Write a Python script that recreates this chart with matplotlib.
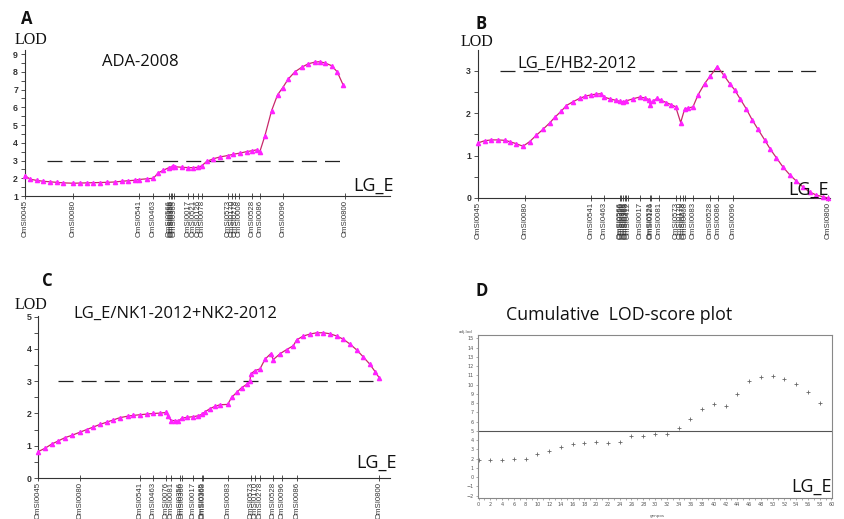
import matplotlib
matplotlib.use("Agg")
import matplotlib.pyplot as plt
from matplotlib.ticker import MultipleLocator

W, H = 845, 519

# ---- A: ADA-2008 (position in cM, LOD)
a_pos = [0, 1.7, 3.9, 6.1, 8.3, 10.6, 12.8, 16.1, 18.3, 20.6, 22.8, 25.0, 27.2, 30.0, 32.2,
         34.4, 36.7, 38.1, 40.6, 42.8, 44.4, 46.1, 48.0, 48.9, 49.4, 50.0, 52.2, 54.4, 56.1,
         57.8, 58.9, 60.6, 62.8, 65.0, 67.6, 69.4, 71.7, 73.9, 75.6, 77.2, 78.3, 80.0, 82.2,
         84.2, 85.9, 87.8, 90.0, 92.2, 94.4, 96.7, 98.3, 100.0, 102.2, 104.1, 106.1]
a_lod = [2.15, 1.95, 1.88, 1.83, 1.8, 1.77, 1.74, 1.72, 1.73, 1.74, 1.75, 1.76, 1.77, 1.79, 1.83,
         1.86, 1.89, 1.93, 1.97, 2.0, 2.3, 2.45, 2.6, 2.65, 2.7, 2.65, 2.62, 2.6, 2.6,
         2.62, 2.7, 2.95, 3.1, 3.2, 3.28, 3.35, 3.42, 3.5, 3.55, 3.6, 3.5, 4.4, 5.8,
         6.7, 7.1, 7.6, 8.0, 8.25, 8.45, 8.55, 8.57, 8.5, 8.35, 8.0, 7.25]
a_mk_pos = [0, 16.1, 38.1, 42.8, 48.0, 48.6, 49.1, 49.7, 54.4, 56.1, 57.8, 58.9, 67.6, 68.9,
            70.0, 71.4, 75.6, 78.3, 86.1, 106.7]
a_mk_names = ["OmSI0045", "OmSI0080", "OmSI0541", "OmSI0463", "OmSI0566", "OmSI0356",
              "OmSI0360", "OmSI0365", "OmSI0017", "OmSI0521", "OmSI0126", "OmSI0078",
              "OmSI0573", "OmSI0170", "OmSI0278", "OmSI0008", "OmSI0528", "OmSI0086",
              "OmSI0096", "OmSI0800"]

# ---- B: LG_E/HB2-2012
b_pos = [0, 2, 4, 6, 8, 9.5, 11.5, 13.5, 15.5, 17.5, 19.5, 21.5, 23, 25, 26.5, 28.5, 30.5,
         32.2, 33.8, 35.5, 37, 37.8, 39.5, 41.5, 42.5, 43.5, 44.5, 46.5, 48.5, 50, 51.3, 51.7,
         52.5, 53.7, 55, 56.5, 58, 59.3, 60.8, 62, 63, 64.5, 66, 68, 69.7, 71.8, 73.7, 75.5,
         77, 78.7, 80.5, 82.2, 84, 86, 87.7, 89.5, 91.5, 93.5, 95.5, 97.5, 99.5, 101.5, 103.5, 105]
b_lod = [1.3, 1.35, 1.37, 1.37, 1.36, 1.33, 1.28, 1.22, 1.33, 1.48, 1.62, 1.77, 1.9, 2.05, 2.18,
         2.27, 2.35, 2.4, 2.43, 2.45, 2.46, 2.38, 2.34, 2.3, 2.28, 2.27, 2.29, 2.34, 2.38, 2.36,
         2.32, 2.2, 2.28, 2.35, 2.3, 2.25, 2.2, 2.15, 1.78, 2.1, 2.12, 2.15, 2.43, 2.7, 2.88,
         3.1, 2.9, 2.7, 2.55, 2.33, 2.1, 1.85, 1.62, 1.37, 1.15, 0.95, 0.73, 0.55, 0.4, 0.26,
         0.14, 0.07, 0.03, 0.0]
b_mk_pos = [0, 14, 33.8, 37.8, 42.5, 43, 43.5, 44, 44.5, 45, 48.5, 51.5, 52, 54.3, 59.5, 60.5,
            61.5, 62, 64.5, 69.5, 72, 76.5, 105]
b_mk_names = ["OmSI0045", "OmSI0080", "OmSI0541", "OmSI0463", "OmSI0566", "OmSI0356",
              "OmSI0360", "OmSI0365", "OmSI0368", "OmSI0412", "OmSI0017", "OmSI0521",
              "OmSI0126", "OmSI0081", "OmSI0573", "OmSI0170", "OmSI0278", "OmSI0008",
              "OmSI0083", "OmSI0528", "OmSI0086", "OmSI0096", "OmSI0800"]

# ---- C: LG_E/NK1-2012+NK2-2012
c_pos = [0, 2, 4, 6, 8, 10, 12.5, 14.5, 16.5, 18.5, 20.5, 22.5, 24.5, 27, 28.5, 30.5, 32.5,
         34.5, 36.5, 38.2, 39, 39.8, 41, 42, 43, 44.5, 46.5, 48, 49, 50, 51.5, 53, 54.5, 56.8,
         58, 59.5, 61, 62.5, 63.5, 63.7, 65, 66.5, 68, 69.7, 70.5, 72.5, 74.5, 76.5, 77.5,
         79.5, 81.5, 83.5, 85.5, 87.5, 89.5, 91.5, 93.5, 95.5, 97.5, 99.5, 101, 102.3]
c_lod = [0.82, 0.92, 1.05, 1.15, 1.25, 1.32, 1.42, 1.5, 1.58, 1.66, 1.73, 1.8, 1.87, 1.92, 1.94,
         1.96, 1.98, 2.0, 2.01, 2.03, 1.92, 1.78, 1.78, 1.76, 1.85, 1.88, 1.9, 1.93, 1.97, 2.05,
         2.15, 2.22, 2.27, 2.28, 2.5, 2.65, 2.8, 2.9, 3.0, 3.22, 3.33, 3.38, 3.68, 3.85, 3.67,
         3.85, 3.98, 4.1, 4.28, 4.4, 4.46, 4.5, 4.5, 4.47, 4.4, 4.3, 4.15, 3.97, 3.75, 3.52,
         3.3, 3.1]
c_mk_pos = [0, 12.5, 30.5, 34.5, 38.2, 39.8, 42.5, 43, 46.5, 49, 49.5, 56.8, 63.7, 65, 66.5,
            70.5, 73, 77.5, 102.3]
c_mk_names = ["OmSI0045", "OmSI0080", "OmSI0541", "OmSI0463", "OmSI0076", "OmSI0081",
              "OmSI0356", "OmSI0360", "OmSI0017", "OmSI0365", "OmSI0368", "OmSI0083",
              "OmSI0573", "OmSI0170", "OmSI0278", "OmSI0528", "OmSI0096", "OmSI0086",
              "OmSI0800"]

# ---- D: cumulative LOD-score plot
d_genpos = [0, 2, 4, 6, 8, 10, 12, 14, 16, 18, 20, 22, 24, 26, 28, 30, 32, 34, 36, 38, 40,
            42, 44, 46, 48, 50, 52, 54, 56, 58]
d_adjlod = [1.85, 1.8, 1.9, 1.92, 1.95, 2.45, 2.85, 3.28, 3.6, 3.7, 3.82, 3.68, 3.78, 4.43,
            4.47, 4.63, 4.68, 5.33, 6.23, 7.33, 7.87, 7.67, 8.97, 10.4, 10.86, 10.9, 10.65,
            10.05, 9.25, 8.03]

LOD_THR = 3
CUM_THR = 5

fig = plt.figure(figsize=(W / 100, H / 100), dpi=100)


def rect(x0, y0, x1, y1):
    # pixel box -> figure fraction
    return [x0 / W, 1 - y1 / H, (x1 - x0) / W, (y1 - y0) / H]


def ftext(x, y, s, **kw):
    fig.text(x / W, 1 - y / H, s, ha="center", va="center", **kw)


def lod_panel(box, xlim, ylim, pos, lod, mk_pos, mk_names, thr_span, yticks):
    ax = fig.add_axes(rect(*box))
    ax.patch.set_alpha(0)
    ax.plot(pos, lod, color="#c8286a", lw=0.9, marker="^", ms=3,
            mfc="#ff22ff", mec="#ff22ff", zorder=3, clip_on=False)
    ax.plot(thr_span, [LOD_THR, LOD_THR], color="#222222", lw=0.9, dashes=(12, 6.5))
    ax.set_xlim(xlim)
    ax.set_ylim(ylim)
    for s in ["top", "right"]:
        ax.spines[s].set_visible(False)
    for s in ["left", "bottom"]:
        ax.spines[s].set_linewidth(0.8)
        ax.spines[s].set_color("#333333")
    ax.set_xticks(mk_pos)
    ax.set_xticklabels(mk_names, rotation=90, fontsize=5.6, color="#333333",
                       family="Liberation Sans")
    ax.tick_params(axis="x", direction="inout", length=4, width=0.6, pad=1, color="#333333")
    ax.set_yticks(yticks)
    ax.yaxis.set_minor_locator(MultipleLocator(0.5))
    ax.tick_params(axis="y", which="both", length=3, width=0.6, labelsize=6.3, pad=2,
                   color="#333333", labelcolor="#333333")
    for t in ax.get_yticklabels():
        t.set_fontweight("bold")
        t.set_family("Liberation Sans")
    return ax


lod_panel((25, 50, 390, 196), (0, 121.7), (1, 9.23), a_pos, a_lod,
          a_mk_pos, a_mk_names, (7.3, 106.1), range(1, 10))
lod_panel((478, 50, 830, 198), (0, 105.6), (0, 3.49), b_pos, b_lod,
          b_mk_pos, b_mk_names, (6.6, 102.5), range(0, 4))
lod_panel((38.3, 316, 390, 478), (0, 105.5), (0, 5.02), c_pos, c_lod,
          c_mk_pos, c_mk_names, (6.0, 100.5), range(0, 6))

# panel D
axd = fig.add_axes(rect(478, 335, 832, 498.3))
axd.scatter(d_genpos, d_adjlod, marker="+", s=9, lw=0.6, color="#666666")
axd.axhline(CUM_THR, color="#555555", lw=0.8)
axd.set_xlim(-0.1, 60.1)
axd.set_ylim(-2.29, 15.36)
for s in axd.spines.values():
    s.set_color("#888888")
    s.set_linewidth(0.8)
axd.xaxis.set_major_locator(MultipleLocator(2))
axd.xaxis.set_minor_locator(MultipleLocator(1))
axd.yaxis.set_major_locator(MultipleLocator(1))
axd.tick_params(which="both", length=1.5, width=0.5, color="#888888",
                labelsize=3.5, labelcolor="#555555", pad=1.5)
ftext(466, 332, "adj.lod", fontsize=3, color="#555555")
ftext(657, 516, "genpos", fontsize=3, color="#555555")

# titles and labels
title_font = dict(family="Open Sans", color="#111111")
for x, y, s in [(26.5, 19, "A"), (481, 24, "B"), (47, 281, "C"), (482, 291, "D")]:
    ftext(x, y, s, fontsize=12, fontweight="bold", **title_font)
for x, y in [(31, 40), (477, 42), (31, 305)]:
    ftext(x, y, "LOD", fontsize=11.5, family="Liberation Serif", color="#111111")
ftext(140, 62, "ADA-2008", fontsize=12, **title_font)
ftext(577, 64, "LG_E/HB2-2012", fontsize=12, **title_font)
ftext(175, 314, "LG_E/NK1-2012+NK2-2012", fontsize=12, **title_font)
ftext(619, 315, "Cumulative  LOD-score plot", fontsize=12.8, **title_font)
for x, y in [(374, 186), (809, 190), (377, 463), (812, 487)]:
    ftext(x, y, "LG_E", fontsize=13, **title_font)

fig.savefig("out.png", dpi=100)
